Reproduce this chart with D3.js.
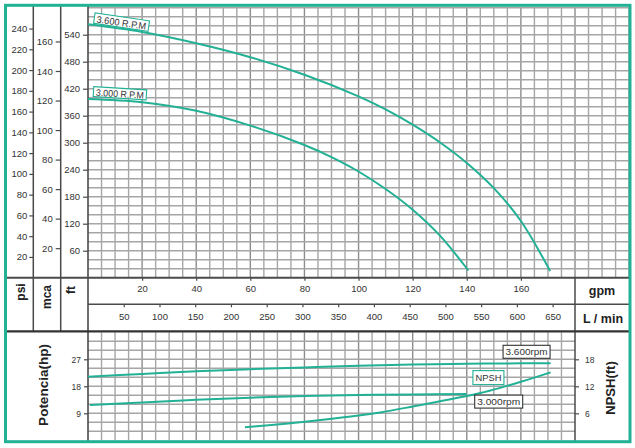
<!DOCTYPE html>
<html>
<head>
<meta charset="utf-8">
<script src="https://cdn.jsdelivr.net/npm/d3@7"></script>
<style>
  html, body { margin: 0; padding: 0; background: #fff; }
  svg { display: block; font-family: "Liberation Sans", Arial, sans-serif; }
</style>
</head>
<body>
<svg id="chart" width="635" height="448"></svg>
<script>
// ---------------- DATA ----------------
const gpm3600 = [0, 20, 40, 60, 80, 100, 110, 120, 130, 140, 150, 160, 170.8];
const ft3600  = [563, 546, 521, 490, 451, 403, 374, 340, 301, 255, 199, 126, 15];

const gpm3000 = [0, 20, 40, 60, 80, 90, 100, 110, 120, 130, 140.6];
const ft3000  = [397, 390, 371, 338, 295, 268, 236, 197, 151, 94, 16];

const gpmPow3600 = [0, 20, 40, 60, 80, 100, 120, 140, 160, 171];
const hpPow3600  = [21.2, 22.1, 23.0, 23.7, 24.3, 24.85, 25.25, 25.5, 25.65, 25.7];

const gpmPow3000 = [0.7, 20, 40, 60, 80, 100, 120, 140];
const hpPow3000  = [11.8, 12.6, 13.5, 14.2, 14.75, 15.1, 15.3, 15.4];

const gpmNpsh = [58, 73, 86, 100, 108, 120, 134, 145, 152, 160, 171];
const ftNpsh  = [2.9, 3.7, 4.5, 5.5, 6.2, 7.5, 9.1, 10.5, 11.6, 13.0, 15.1];

const psiTicks  = [20, 40, 60, 80, 100, 120, 140, 160, 180, 200, 220, 240];
const mcaTicks  = [20, 40, 60, 80, 100, 120, 140, 160];
const ftTicks   = [60, 120, 180, 240, 300, 360, 420, 480, 540];
const gpmTicks  = [20, 40, 60, 80, 100, 120, 140, 160];
const lpmTicks  = [50, 100, 150, 200, 250, 300, 350, 400, 450, 500, 550, 600, 650];
const hpTicks   = [9, 18, 27];
const npshTicks = [6, 12, 18];

const curveLabels = ["3.600 R.P.M", "3.000 R.P.M"];
const lowerLabels = ["3.600rpm", "NPSH", "3.000rpm"];

// ---------------- LAYOUT ----------------
const TEAL = "#22b195";
const GRID = "#a6a6a6";
const GRID_MAJ = "#8c8c8c";
const DARK = "#4a4a4a";
const TXT = "#333";

const svg = d3.select("#chart");

const x = d3.scaleLinear().domain([0, 180]).range([88, 575]);
const lpm = d3.scaleLinear().domain([0, 180 * 3.785]).range([88, 575]);
const yFt = d3.scaleLinear().domain([0, 600]).range([277.7, 7.7]);
const yPsi = d3.scaleLinear().domain([0, 600 / 2.307]).range([277.7, 7.7]);
const yMca = d3.scaleLinear().domain([0, 600 / 3.281]).range([277.7, 7.7]);
const yHp = d3.scaleLinear().domain([0, 36]).range([440.3, 332.3]);
const yNpsh = d3.scaleLinear().domain([0, 24]).range([440.3, 332.3]);

// ---------- grids ----------
const gTop = svg.append("g");
gTop.selectAll("line.v").data(d3.range(5, 200.1, 5)).join("line")
  .attr("x1", d => x(d)).attr("x2", d => x(d))
  .attr("y1", yFt(600)).attr("y2", yFt(0))
  .attr("stroke", d => d % 20 === 0 ? GRID_MAJ : GRID)
  .attr("stroke-width", 1.4);
gTop.selectAll("line.h").data(d3.range(20, 600.1, 20)).join("line")
  .attr("x1", x(0)).attr("x2", x(200))
  .attr("y1", d => yFt(d)).attr("y2", d => yFt(d))
  .attr("stroke", GRID).attr("stroke-width", 1.4);

const gBot = svg.append("g");
gBot.selectAll("line.v").data(d3.range(5, 180, 5)).join("line")
  .attr("x1", d => x(d)).attr("x2", d => x(d))
  .attr("y1", yHp(36)).attr("y2", yHp(0))
  .attr("stroke", d => d % 20 === 0 ? GRID_MAJ : GRID)
  .attr("stroke-width", 1.4);
gBot.selectAll("line.h").data(d3.range(3, 36, 3)).join("line")
  .attr("x1", x(0)).attr("x2", x(180))
  .attr("y1", d => yHp(d)).attr("y2", d => yHp(d))
  .attr("stroke", GRID).attr("stroke-width", 1.4);

// ---------- frame lines ----------
const frame = svg.append("g").attr("stroke", DARK);
frame.append("line").attr("x1", 33.3).attr("x2", 33.3).attr("y1", 5).attr("y2", 331).attr("stroke-width", 1.5);
frame.append("line").attr("x1", 60.7).attr("x2", 60.7).attr("y1", 5).attr("y2", 331).attr("stroke-width", 1.5);
frame.append("line").attr("x1", x(0)).attr("x2", x(0)).attr("y1", 5).attr("y2", 442).attr("stroke-width", 1.6);
frame.append("line").attr("x1", x(180)).attr("x2", x(180)).attr("y1", yFt(0)).attr("y2", 442).attr("stroke-width", 1.5);
frame.append("line").attr("x1", 5).attr("x2", 630).attr("y1", yFt(0)).attr("y2", yFt(0)).attr("stroke-width", 2);
frame.append("line").attr("x1", x(0)).attr("x2", 630).attr("y1", 304.3).attr("y2", 304.3).attr("stroke-width", 1.5);
frame.append("line").attr("x1", 5).attr("x2", 630).attr("y1", 331.3).attr("y2", 331.3).attr("stroke-width", 2.2).attr("stroke", "#333");

// ---------- axes ----------
function styleAxis(g, fs) {
  g.select(".domain").remove();
  g.selectAll(".tick line").attr("stroke", DARK).attr("stroke-width", 1.2);
  g.selectAll(".tick text").attr("fill", TXT).style("font-size", fs + "px");
}
svg.append("g").attr("transform", "translate(33.3,0)")
  .call(d3.axisLeft(yPsi).tickValues(psiTicks).tickSize(4).tickPadding(2))
  .call(g => styleAxis(g, 9.5));
svg.append("g").attr("transform", "translate(60.7,0)")
  .call(d3.axisLeft(yMca).tickValues(mcaTicks).tickSize(5).tickPadding(3))
  .call(g => styleAxis(g, 9.5));
svg.append("g").attr("transform", `translate(${x(0)},0)`)
  .call(d3.axisLeft(yFt).tickValues(ftTicks).tickSize(5).tickPadding(3))
  .call(g => styleAxis(g, 9.5));
svg.append("g").attr("transform", `translate(0,${yFt(0)})`)
  .call(d3.axisBottom(x).tickValues(gpmTicks).tickSize(3).tickPadding(5))
  .call(g => styleAxis(g, 9.5));
svg.append("g").attr("transform", "translate(0,304.3)")
  .call(d3.axisBottom(lpm).tickValues(lpmTicks).tickSize(3).tickPadding(6))
  .call(g => styleAxis(g, 9.5));
svg.append("g").attr("transform", `translate(${x(0)},0)`)
  .call(d3.axisLeft(yHp).tickValues(hpTicks).tickSize(4).tickPadding(3))
  .call(g => styleAxis(g, 8.5));
svg.append("g").attr("transform", `translate(${x(180)},0)`)
  .call(d3.axisRight(yNpsh).tickValues(npshTicks).tickSize(4).tickPadding(6))
  .call(g => styleAxis(g, 8.5));

// ---------- axis titles ----------
function vTitle(cx, cy, text, fs) {
  svg.append("text").attr("transform", `translate(${cx},${cy}) rotate(-90)`)
    .attr("text-anchor", "middle").attr("dominant-baseline", "central")
    .attr("font-weight", "bold").attr("fill", "#222")
    .style("font-size", fs + "px").text(text);
}
vTitle(21, 292, "psi", 12);
vTitle(47, 297, "mca", 12);
vTitle(71, 290, "ft", 12);
vTitle(43, 385, "Potencia(hp)", 13.5);
vTitle(610, 388, "NPSH(ft)", 13);
svg.append("text").attr("x", 602).attr("y", 291).attr("text-anchor", "middle")
  .attr("dominant-baseline", "central").attr("font-weight", "bold").attr("fill", "#222")
  .style("font-size", "12.5px").text("gpm");
svg.append("text").attr("x", 603).attr("y", 319).attr("text-anchor", "middle")
  .attr("dominant-baseline", "central").attr("font-weight", "bold").attr("fill", "#222")
  .style("font-size", "12.5px").text("L / min");

// ---------- curves ----------
function drawCurve(xs, ys, ys_scale) {
  const pts = xs.map((d, i) => [d, ys[i]]);
  svg.append("path").datum(pts)
    .attr("fill", "none").attr("stroke", TEAL).attr("stroke-width", 2)
    .attr("d", d3.line().x(d => x(d[0])).y(d => ys_scale(d[1])).curve(d3.curveCatmullRom.alpha(0.5)));
}
drawCurve(gpm3600, ft3600, yFt);
drawCurve(gpm3000, ft3000, yFt);
drawCurve(gpmPow3600, hpPow3600, yHp);
drawCurve(gpmPow3000, hpPow3000, yHp);
drawCurve(gpmNpsh, ftNpsh, yNpsh);

// ---------- curve labels ----------
function boxLabel(cx, cy, text, w, h, angle, border, fs) {
  const g = svg.append("g").attr("transform", `translate(${cx},${cy}) rotate(${angle})`);
  g.append("rect").attr("x", -w / 2).attr("y", -h / 2).attr("width", w).attr("height", h)
    .attr("fill", "#fff").attr("stroke", border).attr("stroke-width", 1.1);
  g.append("text").attr("text-anchor", "middle").attr("dominant-baseline", "central")
    .attr("y", 0.5).attr("fill", "#333").style("font-size", fs + "px")
    .attr("textLength", w - 5).attr("lengthAdjust", "spacingAndGlyphs").text(text);
}
boxLabel(x(12.4), yFt(568), curveLabels[0], 55, 10.5, 8.3, TEAL, 9.5);
boxLabel(x(11.8), yFt(410), curveLabels[1], 53, 10, 3.6, TEAL, 9.5);
boxLabel(x(162.1), yHp(29.5), lowerLabels[0], 47, 13, 0, "#333", 9);
boxLabel(x(148), yHp(20.9), lowerLabels[1], 31, 14, 0, TEAL, 9);
boxLabel(x(151.8), yHp(12.9), lowerLabels[2], 48, 13, 0, "#333", 9);

// ---------- outer border ----------
svg.append("rect").attr("x", 5.5).attr("y", 5.3).attr("width", 624.5).attr("height", 436.4)
  .attr("fill", "none").attr("stroke", TEAL).attr("stroke-width", 3);
</script>
</body>
</html>
